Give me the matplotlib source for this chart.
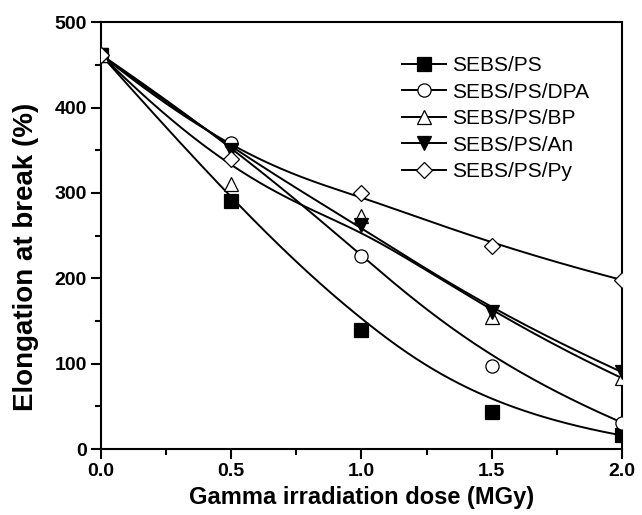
import numpy as np
import matplotlib.pyplot as plt

plt.rcParams['font.family'] = ['Liberation Sans', 'DejaVu Sans']

# Datos
dosis = [0.0, 0.5, 1.0, 1.5, 2.0]
sebs_ps = [462, 290, 139, 44, 16]
sebs_ps_dpa = [462, 358, 226, 97, 31]
sebs_ps_bp = [462, 310, 273, 155, 83]
sebs_ps_an = [462, 350, 262, 160, 90]
sebs_ps_py = [462, 340, 300, 238, 198]

series = [
    ("SEBS/PS", sebs_ps, 's', 'black'),
    ("SEBS/PS/DPA", sebs_ps_dpa, 'o', 'white'),
    ("SEBS/PS/BP", sebs_ps_bp, '^', 'white'),
    ("SEBS/PS/An", sebs_ps_an, 'v', 'black'),
    ("SEBS/PS/Py", sebs_ps_py, 'D', 'white'),
]


def base_bspline(i, k, t, knots):
    # Cox-de Boor
    if k == 0:
        return np.where((knots[i] <= t) & (t < knots[i + 1]), 1.0, 0.0)
    a = 0.0
    if knots[i + k] != knots[i]:
        a = (t - knots[i]) / (knots[i + k] - knots[i]) * base_bspline(i, k - 1, t, knots)
    b = 0.0
    if knots[i + k + 1] != knots[i + 1]:
        b = (knots[i + k + 1] - t) / (knots[i + k + 1] - knots[i + 1]) * base_bspline(i + 1, k - 1, t, knots)
    return a + b


def curva_bspline(px, py, n=300):
    # B-spline cubica con los puntos como puntos de control (como Origin)
    px = np.asarray(px, float)
    py = np.asarray(py, float)
    m = len(px)
    k = 3
    interior = list(np.linspace(0, 1, m - k + 1)[1:-1])
    knots = [0.0] * (k + 1) + interior + [1.0] * (k + 1)
    t = np.linspace(0, 1 - 1e-9, n)
    B = np.array([base_bspline(i, k, t, knots) for i in range(m)])
    return B.T @ px, B.T @ py


fig = plt.figure(figsize=(6.42, 5.15), dpi=100)
ax = fig.add_axes([0.157, 0.128, 0.812, 0.829])

for nombre, y, m, fc in series:
    cx, cy = curva_bspline(dosis, y)
    ax.plot(cx, cy, color='black', lw=1.4)
    ms = 8.5 if m == 'D' else 9.5
    ax.plot(dosis, y, linestyle='none', marker=m, ms=ms, mfc=fc, mec='black', mew=0.9, zorder=3)
    # entrada de leyenda
    ax.plot([], [], color='black', lw=1.4, marker=m, ms=ms, mfc=fc, mec='black', mew=0.9, label=nombre)

ax.set_xlim(0, 2.0)
ax.set_ylim(0, 500)
ax.set_xticks([0.0, 0.5, 1.0, 1.5, 2.0])
ax.set_xticks([0.25, 0.75, 1.25, 1.75], minor=True)
ax.set_yticks([0, 100, 200, 300, 400, 500])
ax.set_yticks([50, 150, 250, 350, 450], minor=True)
ax.tick_params(which='both', direction='out', width=1.5)
ax.tick_params(which='major', length=7, labelsize=14, pad=3)
ax.tick_params(which='minor', length=4.5)
for lab in ax.get_xticklabels() + ax.get_yticklabels():
    lab.set_fontweight('bold')
for s in ax.spines.values():
    s.set_linewidth(1.5)

ax.set_xlabel("Gamma irradiation dose (MGy)", fontsize=17, fontweight='bold', labelpad=4)
ax.set_ylabel("Elongation at break (%)", fontsize=20, fontweight='bold', labelpad=11, y=0.45)

ax.legend(loc='upper right', bbox_to_anchor=(0.973, 0.964), frameon=False, fontsize=15,
          handlelength=2.1, handletextpad=0.3, labelspacing=0.36)

fig.savefig("out.png", dpi=100)
